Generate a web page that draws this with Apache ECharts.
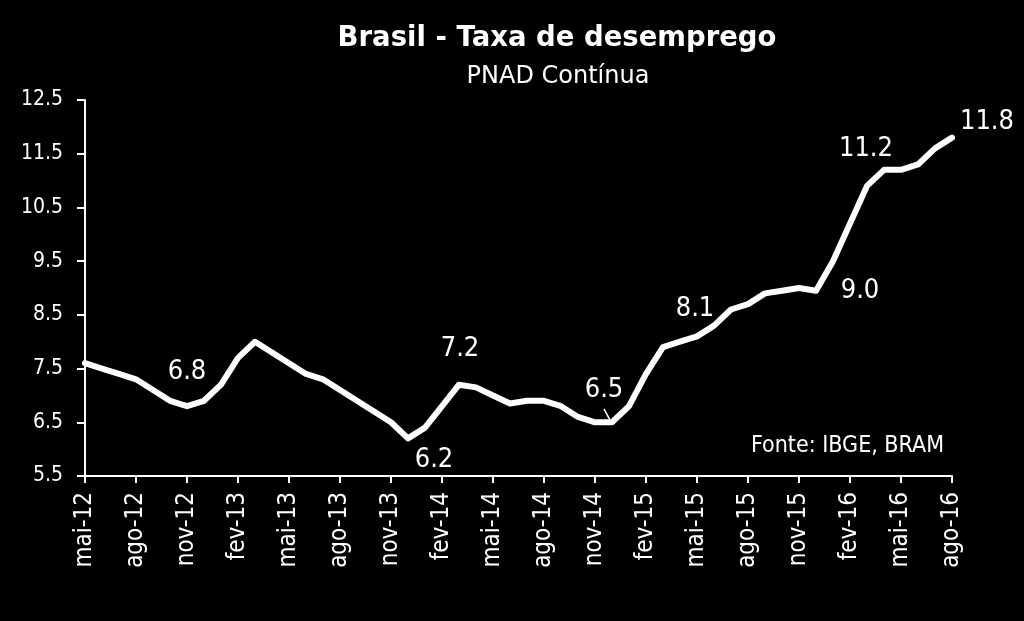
<!DOCTYPE html>
<html>
<head>
<meta charset="utf-8">
<script src="https://cdn.jsdelivr.net/npm/echarts@6/dist/echarts.min.js"></script>
<style>
html,body{margin:0;padding:0;background:#000;}
#chart{width:1024px;height:621px;}
</style>
</head>
<body>
<div id="chart"></div>
<script>
const months = ['jan','fev','mar','abr','mai','jun','jul','ago','set','out','nov','dez'];
const categories = [];
for (let y = 12; y <= 16; y++) {
  for (let m = 0; m < 12; m++) {
    if (y === 12 && m < 4) continue;
    if (y === 16 && m > 7) continue;
    categories.push(months[m] + '-' + y);
  }
}
const unemployment = [
  7.6, 7.5, 7.4, 7.3, 7.1, 6.9, 6.8, 6.9,
  7.2, 7.7, 8.0, 7.8, 7.6, 7.4, 7.3, 7.1, 6.9, 6.7, 6.5, 6.2,
  6.4, 6.8, 7.2, 7.15, 7.0, 6.85, 6.9, 6.9, 6.8, 6.6, 6.5, 6.5,
  6.8, 7.4, 7.9, 8.0, 8.1, 8.3, 8.6, 8.7, 8.9, 8.95, 9.0, 8.95,
  9.5, 10.2, 10.9, 11.2, 11.2, 11.3, 11.6, 11.8
];
const labelledMonths = ['nov-12','dez-13','mar-14','dez-14','mai-15','nov-15','abr-16','ago-16'];
const labelTexts = ['6.8','6.2','7.2','6.5','8.1','9.0','11.2','11.8'];
const yTicks = ['5.5','6.5','7.5','8.5','9.5','10.5','11.5','12.5'];
// leader line for the 6.5 label: [fractional month index, value] pairs
const leaderLine = [[30.53, 6.75], [30.88, 6.54]];

const FONT = '"DejaVu Sans Condensed","DejaVu Sans",sans-serif';
const offsets = {
  'nov-12': [0, -34], 'dez-13': [26, 22], 'mar-14': [1, -36], 'dez-14': [-8, -32],
  'mai-15': [-2, -27], 'nov-15': [61, 3], 'abr-16': [-18, -21], 'ago-16': [35, -16]
};

const seriesData = unemployment.map((v, i) => {
  const cat = categories[i];
  const k = labelledMonths.indexOf(cat);
  if (k < 0) return v;
  return {
    value: v,
    label: {
      show: true,
      position: 'inside',
      offset: offsets[cat],
      formatter: labelTexts[k],
      color: '#fff',
      fontFamily: FONT,
      fontSize: 27
    }
  };
});

const chart = echarts.init(document.getElementById('chart'));
chart.setOption({
  backgroundColor: '#000',
  animation: false,
  title: [
    { text: 'Brasil - Taxa de desemprego', left: 552, top: 20, textAlign: 'center',
      textStyle: { color: '#fff', fontFamily: '"DejaVu Sans",sans-serif', fontWeight: 'bold', fontSize: 27.5 } },
    { text: 'PNAD Contínua', left: 553, top: 60, textAlign: 'center',
      textStyle: { color: '#fff', fontFamily: '"DejaVu Sans",sans-serif', fontWeight: 'normal', fontSize: 24 } },
    { text: 'Fonte: IBGE, BRAM', right: 75, top: 430,
      textStyle: { color: '#fff', fontFamily: FONT, fontWeight: 'normal', fontSize: 23 } }
  ],
  grid: { left: 85, right: 72, top: 100, bottom: 145, containLabel: false },
  xAxis: {
    type: 'category',
    data: categories,
    boundaryGap: false,
    axisLine: { lineStyle: { color: '#fff', width: 2 } },
    axisTick: { interval: 2, length: 7, lineStyle: { color: '#fff', width: 2 } },
    axisLabel: { interval: 2, rotate: 90, color: '#fff', fontFamily: FONT, fontSize: 24, margin: 16 },
    splitLine: { show: false }
  },
  yAxis: {
    type: 'value',
    min: 5.5, max: 12.5, interval: 1,
    axisLine: { show: true, lineStyle: { color: '#fff', width: 2 } },
    axisTick: { show: true, length: 8, lineStyle: { color: '#fff', width: 2 } },
    axisLabel: { color: '#fff', fontFamily: FONT, fontSize: 21, margin: 22,
      formatter: v => yTicks.find(t => Math.abs(parseFloat(t) - v) < 1e-6) || v.toFixed(1) },
    splitLine: { show: false }
  },
  series: [{
    type: 'line',
    data: seriesData,
    symbol: 'circle',
    symbolSize: 1,
    showSymbol: true,
    itemStyle: { color: 'rgba(0,0,0,0)' },
    lineStyle: { color: '#fff', width: 6, join: 'round', cap: 'round' },
    label: { show: false },
    clip: false
  }]
});

// place the leader line through the chart's own scales (interpolating between month positions)
function toPixel(pt) {
  const i0 = Math.floor(pt[0]);
  const f = pt[0] - i0;
  const a = chart.convertToPixel({ gridIndex: 0 }, [i0, pt[1]]);
  const b = chart.convertToPixel({ gridIndex: 0 }, [i0 + 1, pt[1]]);
  return [a[0] + (b[0] - a[0]) * f, a[1]];
}
const p1 = toPixel(leaderLine[0]);
const p2 = toPixel(leaderLine[1]);
chart.setOption({
  graphic: [{
    type: 'line', silent: true,
    shape: { x1: p1[0], y1: p1[1], x2: p2[0], y2: p2[1] },
    style: { stroke: '#fff', lineWidth: 1.5 }
  }]
});
</script>
</body>
</html>
